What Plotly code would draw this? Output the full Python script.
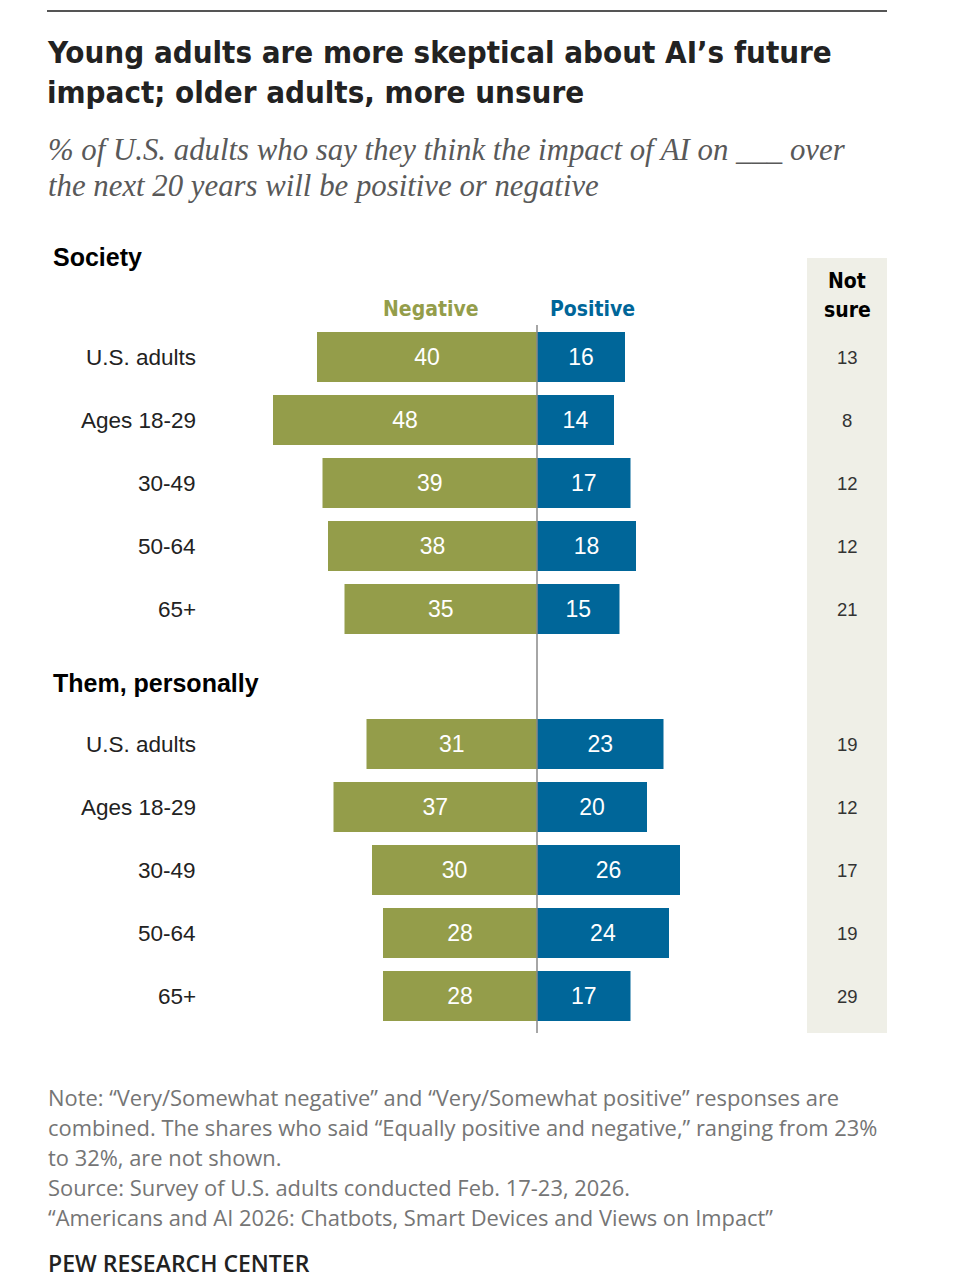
import plotly.graph_objects as go

W, H = 958, 1284
OFF = 8  # page body margin; figure starts at (8, 8)

groups = ["Society", "Them, personally"]
rows = ["U.S. adults", "Ages 18-29", "30-49", "50-64", "65+"]

society_negative = [40, 48, 39, 38, 35]
society_positive = [16, 14, 17, 18, 15]
society_not_sure = [13, 8, 12, 12, 21]

personal_negative = [31, 37, 30, 28, 28]
personal_positive = [23, 20, 26, 24, 17]
personal_not_sure = [19, 12, 17, 19, 29]

title_lines = ["Young adults are more skeptical about AI’s future",
               "impact; older adults, more unsure"]
subtitle_lines = ["% of U.S. adults who say they think the impact of AI on ___ over",
                  "the next 20 years will be positive or negative"]
note_lines = ["Note: “Very/Somewhat negative” and “Very/Somewhat positive” responses are",
              "combined. The shares who said “Equally positive and negative,” ranging from 23%",
              "to 32%, are not shown.",
              "Source: Survey of U.S. adults conducted Feb. 17-23, 2026.",
              "“Americans and AI 2026: Chatbots, Smart Devices and Views on Impact”"]

NEG = "#949d4a"
POS = "#006699"
SHADE = "#efefe7"
SANS = "Liberation Sans"
COND = "DejaVu Sans Condensed"

# layout in screen pixels
zero_px = 537
px_per_unit = 5.5
group_first_row = [357, 744]
group_head_y = [257, 683]
row_pitch = 63
bar_h = 50

negatives = [society_negative, personal_negative]
positives = [society_positive, personal_positive]
not_sures = [society_not_sure, personal_not_sure]

FW, FH = W - OFF, H - OFF


def px(x):
    return (x - OFF) / FW


fig = go.Figure()
ann = []


def label(x, y, text, size, color, family=SANS, anchor="left", weight=None):
    font = dict(size=size, color=color, family=family)
    if weight:
        font["weight"] = weight
    ann.append(dict(x=px(x), y=y, xref="paper", yref="y", text=text,
                    xanchor=anchor, yanchor="middle", showarrow=False, font=font))


for g in range(2):
    ys = [group_first_row[g] + i * row_pitch for i in range(len(rows))]
    for vals, sign, col in ((negatives[g], -1, NEG), (positives[g], 1, POS)):
        fig.add_trace(go.Bar(
            y=ys, x=[sign * v for v in vals], base=0, orientation="h",
            width=bar_h, marker=dict(color=col, line=dict(width=0)),
            text=[str(v) for v in vals], textposition="inside",
            insidetextanchor="middle", textangle=0,
            textfont=dict(color="white", size=23, family=SANS),
            hoverinfo="skip", showlegend=False,
        ))
    for i, lab in enumerate(rows):
        label(198, ys[i], lab, 22.5, "#222222", anchor="right")
        label(847, ys[i], str(not_sures[g][i]), 18.5, "#333333", anchor="center")
    label(51, group_head_y[g], "<b>%s</b>" % groups[g], 25, "black")

# column headers
label(431, 309, "<b>Negative</b>", 21, NEG, COND, "center")
label(548, 309, "<b>Positive</b>", 21, POS, COND)
label(847, 281, "<b>Not</b>", 21, "black", COND, "center")
label(847, 310, "<b>sure</b>", 21, "black", COND, "center")

# title / subtitle
for i, t in enumerate(title_lines):
    label(45, 52 + i * 40, "<b>%s</b>" % t, 31, "#222222", COND)
for i, t in enumerate(subtitle_lines):
    label(46, 150 + i * 36, "<i>%s</i>" % t, 30.8, "#595959", "Liberation Serif")

# note / source
for i, t in enumerate(note_lines):
    label(46, 1097 + i * 30, t, 21.9, "#757575", "Open Sans")
label(46, 1263, "PEW RESEARCH CENTER", 23, "#222222", "Open Sans", weight=600)

shapes = [
    dict(type="line", xref="paper", yref="y", x0=px(47), x1=px(887), y0=11, y1=11,
         line=dict(color="#555555", width=2)),
    dict(type="rect", xref="paper", yref="y", x0=px(807), x1=px(887), y0=258, y1=1033,
         fillcolor=SHADE, line=dict(width=0), layer="below"),
    dict(type="line", xref="x", yref="y", x0=0, x1=0, y0=325, y1=1033,
         line=dict(color="#888888", width=1.5), layer="above"),
]

fig.update_layout(
    width=FW, height=FH,
    margin=dict(l=0, r=0, t=0, b=0),
    paper_bgcolor="white", plot_bgcolor="rgba(0,0,0,0)",
    barmode="overlay",
    xaxis=dict(range=[-(zero_px - OFF) / px_per_unit, (W - zero_px) / px_per_unit],
               visible=False, fixedrange=True),
    yaxis=dict(range=[H, OFF], visible=False, fixedrange=True),
    annotations=ann, shapes=shapes,
)

fig.write_html("out.html")
